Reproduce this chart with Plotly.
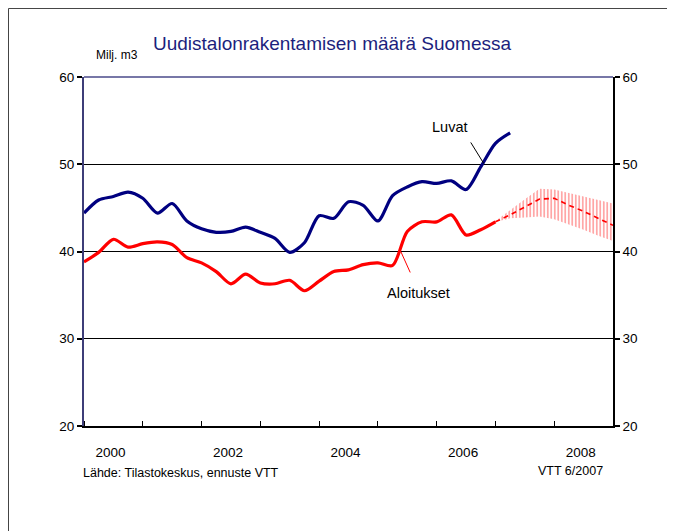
import plotly.graph_objects as go

# ---- data ----
quarters = [2000.0, 2000.25, 2000.5, 2000.75, 2001.0, 2001.25, 2001.5, 2001.75,
            2002.0, 2002.25, 2002.5, 2002.75, 2003.0, 2003.25, 2003.5, 2003.75,
            2004.0, 2004.25, 2004.5, 2004.75, 2005.0, 2005.25, 2005.5, 2005.75,
            2006.0, 2006.25, 2006.5, 2006.75, 2007.0, 2007.25]

luvat = [44.4, 45.9, 46.3, 46.8, 46.1, 44.4, 45.5, 43.5,
         42.6, 42.2, 42.3, 42.8, 42.2, 41.5, 39.9, 41.0,
         44.1, 43.8, 45.7, 45.3, 43.5, 46.4, 47.4, 48.0,
         47.8, 48.1, 47.1, 49.7, 52.4, 53.6]

aloitukset = [38.8, 39.9, 41.4, 40.5, 40.9, 41.1, 40.8, 39.3,
              38.7, 37.7, 36.3, 37.4, 36.4, 36.3, 36.7, 35.5,
              36.6, 37.7, 37.9, 38.5, 38.7, 38.4, 42.3, 43.4,
              43.4, 44.2, 41.9, 42.5, 43.4]

fc_quarters = [2007.0, 2007.25, 2007.5, 2007.75, 2008.0, 2008.25, 2008.5, 2008.75, 2009.0]
fc_mid = [43.4, 44.2, 45.1, 46.0, 46.1, 45.3, 44.6, 43.8, 43.0]
fc_upper = [43.5, 44.8, 46.0, 47.2, 47.1, 46.7, 46.3, 45.9, 45.5]
fc_lower = [43.4, 43.8, 43.9, 44.0, 43.7, 43.1, 42.5, 41.8, 41.2]

year_ticks = list(range(2000, 2010))
year_label_pos = [2000.45, 2002.45, 2004.45, 2006.45, 2008.45]
year_labels = ["2000", "2002", "2004", "2006", "2008"]
y_ticks = [20, 30, 40, 50, 60]

FONT = "Liberation Sans, Arial, sans-serif"
NAVY = "#000080"
RED = "#ff0000"

fig = go.Figure()

# forecast band (hatched)
fig.add_trace(go.Scatter(x=fc_quarters, y=fc_lower, mode="lines",
                         line=dict(width=0, color="rgba(255,0,0,0)"),
                         showlegend=False, hoverinfo="skip"))
fig.add_trace(go.Scatter(x=fc_quarters, y=fc_upper, mode="lines", fill="tonexty",
                         line=dict(width=0, color="rgba(255,0,0,0)"),
                         fillcolor="rgba(0,0,0,0)",
                         fillpattern=dict(shape="|", fgcolor="#ff3a3a", bgcolor="white",
                                          size=3.5, solidity=0.45),
                         showlegend=False, hoverinfo="skip"))
# forecast dashed line
fig.add_trace(go.Scatter(x=fc_quarters, y=fc_mid, mode="lines",
                         line=dict(color=RED, width=1.6, dash="5px,4px"),
                         showlegend=False))

fig.add_trace(go.Scatter(x=quarters[:len(aloitukset)], y=aloitukset, mode="lines",
                         line=dict(color=RED, width=3.2, shape="spline", smoothing=0.8),
                         name="Aloitukset", showlegend=False))
fig.add_trace(go.Scatter(x=quarters, y=luvat, mode="lines",
                         line=dict(color=NAVY, width=3.2, shape="spline", smoothing=0.8),
                         name="Luvat", showlegend=False))
# invisible trace to carry the right-hand axis
fig.add_trace(go.Scatter(x=quarters, y=luvat, mode="none", yaxis="y2",
                         showlegend=False, hoverinfo="skip"))

fig.update_layout(
    width=667, height=523,
    margin=dict(l=76, r=62, t=69, b=105),
    paper_bgcolor="white", plot_bgcolor="white",
    font=dict(family=FONT, size=13, color="black"),
    title=dict(text="Uudistalonrakentamisen määrä Suomessa",
               x=0.4858, y=0.9331, xref="container", yref="container",
               xanchor="center", yanchor="middle",
               font=dict(family=FONT, size=19, color="#1c1f7d")),
    xaxis=dict(range=[2000, 2009], showgrid=False, zeroline=False,
               showline=True, linecolor="black", linewidth=1.5,
               tickmode="array", tickvals=year_label_pos, ticktext=year_labels,
               ticks="", ticklabelstandoff=13, tickfont=dict(size=13.5),
               minor=dict(tickmode="array", tickvals=year_ticks, ticks="inside",
                          ticklen=5, tickcolor="black", tickwidth=1, showgrid=False)),
    yaxis=dict(range=[20, 60], tickvals=y_ticks, showgrid=True, gridcolor="black",
               gridwidth=1, zeroline=False, showline=True, linecolor="#3d3d78",
               linewidth=2, ticks="outside", ticklen=5, tickcolor="black",
               tickwidth=1.5, tickfont=dict(size=13.5)),
    yaxis2=dict(range=[20, 60], tickvals=y_ticks, overlaying="y", side="right",
                showgrid=False, zeroline=False, showline=True, linecolor="black",
                linewidth=1.5, ticks="outside", ticklen=5, tickcolor="black",
                tickwidth=1.5, tickfont=dict(size=13.5)),
)

# top frame line of the plot area
fig.add_shape(type="line", xref="paper", yref="paper", x0=0, x1=1, y0=1, y1=1,
              line=dict(color="#4a4a8a", width=1.5))
# outer frame
fig.add_shape(type="rect", xref="paper", yref="paper", x0=-0.1427, x1=1.3,
              y0=-0.5, y1=1.1963, line=dict(color="#444444", width=1))

# series labels with leader lines
fig.add_annotation(x=2006.22, y=54.3, text="Luvat", showarrow=False,
                   font=dict(size=14.5, color="black"))
fig.add_shape(type="line", x0=2006.58, y0=52.5, x1=2006.80, y1=50.1,
              line=dict(color="black", width=1))
fig.add_annotation(x=2005.69, y=35.3, text="Aloitukset", showarrow=False,
                   font=dict(size=14.5, color="black"))
fig.add_shape(type="line", x0=2005.39, y0=40.0, x1=2005.55, y1=37.6,
              line=dict(color=RED, width=1))

fig.add_annotation(x=0.062, y=1.063, xref="paper", yref="paper", text="Milj. m3",
                   showarrow=False, font=dict(size=12), xanchor="center",
                   yanchor="middle")
fig.add_annotation(x=-0.0057, y=-0.1347, xref="paper", yref="paper",
                   text="Lähde: Tilastokeskus, ennuste VTT", showarrow=False,
                   xanchor="left", yanchor="middle", font=dict(size=12.5))
fig.add_annotation(x=0.985, y=-0.129, xref="paper", yref="paper",
                   text="VTT 6/2007", showarrow=False, xanchor="right",
                   yanchor="middle", font=dict(size=12.5))

fig.write_html("out.html")
